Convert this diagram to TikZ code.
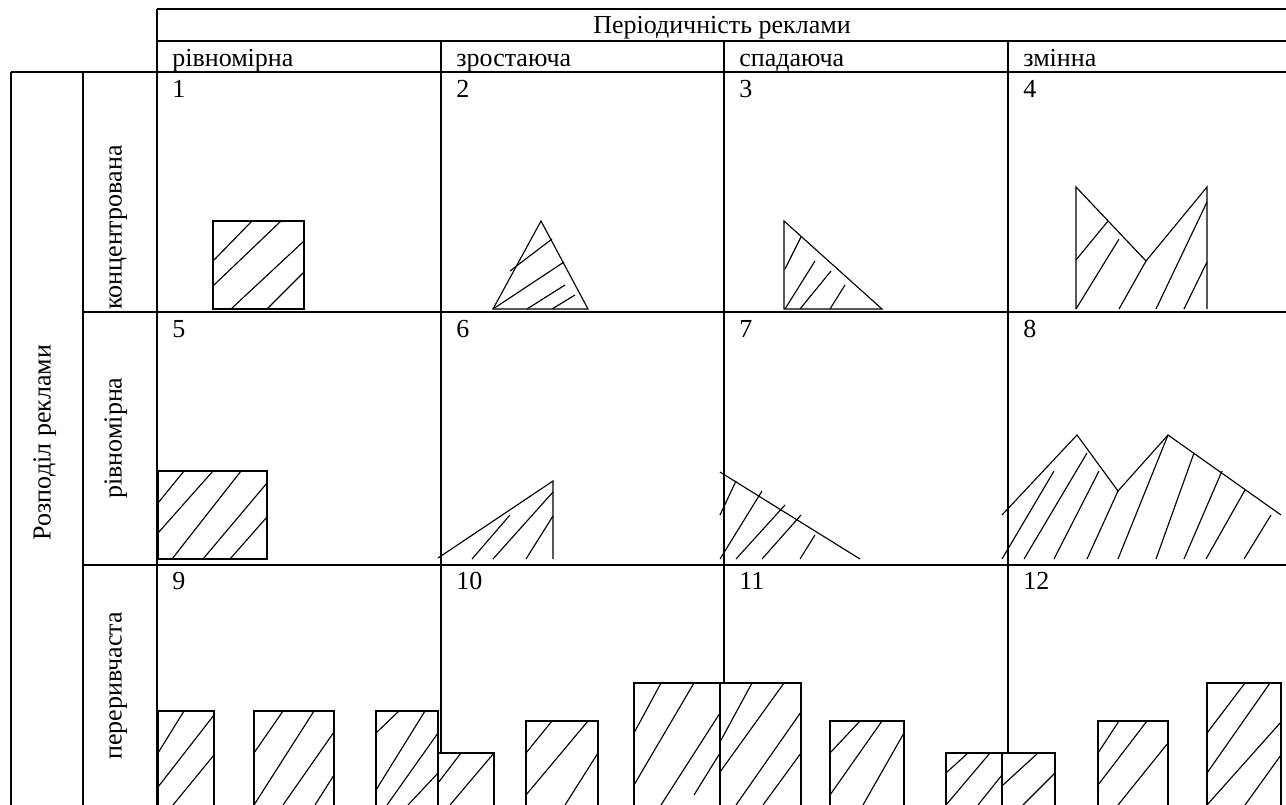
\documentclass[tikz,border=0pt]{standalone}
\usepackage{fontspec}
\setmainfont{Liberation Serif}
\usetikzlibrary{positioning}

\begin{document}
\begin{tikzpicture}[
  x=0.02cm, y=-0.02cm,
  font=\fontsize{14.8pt}{17pt}\selectfont,
  rule/.style={line width=1.15pt},
  figure/.style={line width=0.65pt,line join=miter},
  bar/.style={figure,fill=white},
  hatch/.style={line width=0.65pt},
  head/.style={inner sep=0pt,anchor=base west},
  side/.style={inner sep=0pt,anchor=base,rotate=90}
]
\useasboundingbox (0,0) rectangle (1286,805);
\clip (0,0) rectangle (1286,805);

\draw[rule] (157,9) -- (1290,9) (157,41) -- (1290,41) (11,72) -- (1290,72)
  (83,312) -- (1290,312) (83,565) -- (1290,565);
\draw[rule] (11,72) -- (11,810) (83,72) -- (83,810) (157,9) -- (157,810);
\foreach \x in {441,724,1008}
  \draw[rule] (\x,41) -- (\x,810);

\node[head,anchor=base] (period) at (722,33.5) {Періодичність реклами};
\node[head] (even) at (172,66.5) {рівномірна};
\node[head] (rise) at (456,66.5) {зростаюча};
\node[head] (fall) at (739,66.5) {спадаюча};
\node[head] (vary) at (1023,66.5) {змінна};

\node[side] (spread) at (50.5,442.5) {Розподіл реклами};
\node[side,anchor=base west] (dense) at (121.7,310) {концентрована};
\node[side] (flat) at (121.7,438) {рівномірна};
\node[side] (pulse) at (121.7,686) {переривчаста};

\foreach \n/\x/\y in {1/172/97.5,2/456/97.5,3/739/97.5,4/1023/97.5,
  5/172/337,6/456/337,7/739/337,8/1023/337,
  9/172/589.5,10/456/589.5,11/739/589.5,12/1023/589.5}
  \node[head] (cell\n) at (\x,\y) {\n};

\draw[figure] (213,221) rectangle (304,309);
\draw[hatch] (214,260) -- (252,221) (214,285) -- (281,221) (231,309) -- (304,241) (267,309) -- (304,272);

\draw[figure] (493,309) -- (541,221) -- (588,309) -- cycle;
\draw[hatch] (510,271) -- (552,239) (493,309) -- (564,262) (527,309) -- (565,285) (552,309) -- (575,295);

\draw[figure] (784,221) -- (784,309) -- (882,309) -- cycle;
\draw[hatch] (785,269) -- (801,237) (785,309) -- (815,261) (800,309) -- (831,271) (830,309) -- (845,285);

\draw[figure] (1076,309) -- (1076,187) -- (1146,261) -- (1207,187) -- (1207,309);
\draw[hatch] (1076,260) -- (1108,221) (1076,309) -- (1119,239) (1119,309) -- (1146,261)
  (1156,309) -- (1207,202) (1184,309) -- (1207,262);

\draw[figure] (158,471) rectangle (267,559);
\draw[hatch] (158,503) -- (184,471) (158,533) -- (213,471) (172,559) -- (241,471)
  (203,559) -- (267,483) (230,559) -- (267,517);

\draw[figure] (438,558) -- (553,481) -- (553,559);
\draw[hatch] (472,559) -- (510,515) (493,559) -- (553,492) (526,559) -- (553,516);

\draw[figure] (720,472) -- (860,559);
\draw[hatch] (720,515) -- (736,481) (720,559) -- (762,491) (736,559) -- (785,505)
  (762,559) -- (801,515) (800,559) -- (815,535);

\draw[figure] (1002,515) -- (1077,435) -- (1118,491) -- (1168,435) -- (1281,515);
\draw[hatch] (1002,559) -- (1054,471) (1024,559) -- (1087,453) (1054,559) -- (1099,471)
  (1087,559) -- (1118,491) (1118,559) -- (1168,435) (1156,559) -- (1194,453)
  (1184,559) -- (1222,471) (1206,559) -- (1245,490) (1244,559) -- (1271,515);

\draw[bar] (158,711) rectangle (214,812) (254,711) rectangle (334,812) (376,711) rectangle (438,812);
\draw[hatch] (158,753) -- (184,711) (158,787) -- (214,715) (173,805) -- (214,755)
  (254,753) -- (283,711) (254,805) -- (314,711) (283,805) -- (334,732) (315,805) -- (334,775)
  (376,733) -- (399,711) (376,790) -- (425,711) (387,805) -- (438,733) (408,805) -- (438,773);

\draw[bar] (438,753) rectangle (494,812) (526,721) rectangle (598,812) (634,683) rectangle (720,812);
\draw[hatch] (438,783) -- (461,753) (450,805) -- (494,753)
  (526,753) -- (552,721) (526,795) -- (588,721) (565,805) -- (598,753)
  (634,733) -- (661,683) (634,785) -- (694,683) (661,805) -- (720,713) (694,795) -- (720,753);

\draw[bar] (720,683) rectangle (801,812) (830,721) rectangle (904,812) (946,753) rectangle (1002,812);
\draw[hatch] (720,742) -- (752,683) (720,772) -- (784,683) (736,805) -- (801,712) (763,805) -- (801,753)
  (830,753) -- (860,721) (830,795) -- (882,721) (863,805) -- (904,733)
  (946,773) -- (968,753) (946,805) -- (990,753) (978,805) -- (1002,775);

\draw[bar] (1002,753) rectangle (1055,812) (1098,721) rectangle (1168,812) (1207,683) rectangle (1281,812);
\draw[hatch] (1003,785) -- (1038,753) (1023,805) -- (1055,773)
  (1098,753) -- (1119,721) (1098,785) -- (1147,721) (1118,805) -- (1168,743)
  (1207,733) -- (1245,683) (1207,773) -- (1270,683) (1207,805) -- (1281,722) (1245,805) -- (1281,755);
\end{tikzpicture}
\end{document}
